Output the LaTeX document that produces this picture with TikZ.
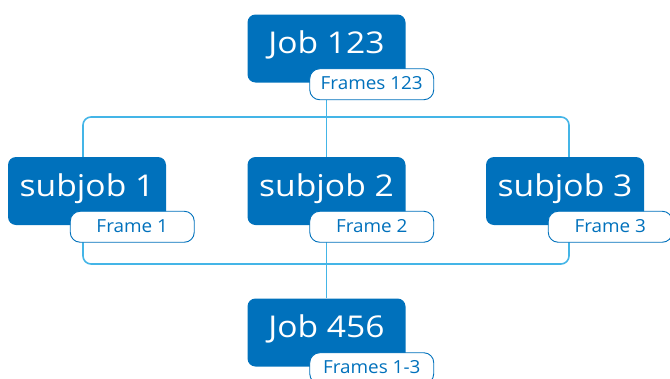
\documentclass[tikz,border=0pt]{standalone}
\usepackage{fontspec}
\setmainfont{Open Sans}
\newfontfamily\jobfont[FakeStretch=1.12]{Open Sans}
\newfontfamily\framefont[FakeStretch=1.05]{Open Sans}
\usetikzlibrary{backgrounds}
\definecolor{jobblue}{HTML}{0071BC}
\definecolor{linkblue}{HTML}{44B5E7}
\tikzset{
  jobbox/.style={fill=jobblue, rounded corners=8pt, text=white, minimum width=158pt,
    inner sep=0pt, text height=39pt, text depth=29pt, font=\jobfont\fontsize{30}{30}\selectfont},
  framepill/.style={draw=jobblue, fill=white, rounded corners=10pt, line width=0.9pt,
    text=jobblue, minimum width=124pt, inner sep=0pt, text height=21pt, text depth=10pt,
    font=\framefont\fontsize{18}{18}\selectfont, anchor=north west},
  link/.style={draw=linkblue, line width=1.6pt, rounded corners=8pt}
}
\begin{document}
\begin{tikzpicture}[x=1pt,y=-1pt]
\useasboundingbox (0,0) rectangle (670,378);
\clip (0,0) rectangle (670,378);
% jobs and subjobs
\node[jobbox] (job123) at (326.5,48.5) {Job 123};
\node[jobbox] (sub1) at (87,191) {subjob 1};
\node[jobbox] (sub2) at (326.5,191) {subjob 2};
\node[jobbox] (sub3) at (565,191) {subjob 3};
\node[jobbox] (job456) at (326.5,332.5) {Job 456};
% frame ranges
\node[framepill] (frames123) at ([xshift=62pt,yshift=-54pt]job123.north west) {Frames 123};
\node[framepill] (frame1) at ([xshift=62pt,yshift=-54pt]sub1.north west) {Frame 1};
\node[framepill] (frame2) at ([xshift=62pt,yshift=-54pt]sub2.north west) {Frame 2};
\node[framepill] (frame3) at ([xshift=62pt,yshift=-54pt]sub3.north west) {Frame 3};
\node[framepill] (frames456) at ([xshift=62pt,yshift=-54pt]job456.north west) {Frames 1-3};
% split and merge
\coordinate (split) at (569,117);
\coordinate (merge) at (83,264);
\begin{pgfonlayer}{background}
\draw[link] (merge) rectangle (split);
\draw[link] (job123) -- (job456);
\end{pgfonlayer}
\end{tikzpicture}
\end{document}
